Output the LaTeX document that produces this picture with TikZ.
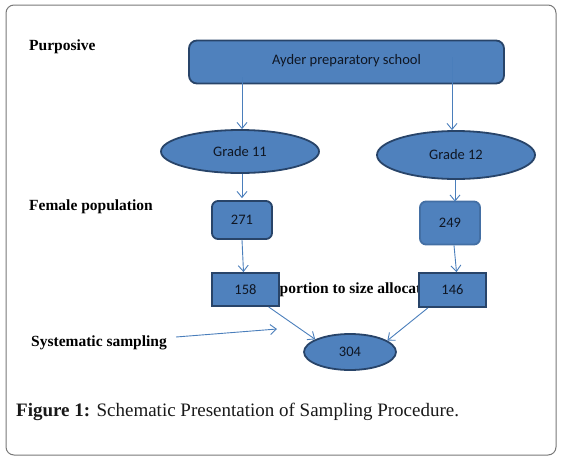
\documentclass[tikz,border=0pt]{standalone}
\usepackage{fontspec}
\setmainfont{Liberation Serif}
\newfontfamily\boxfont{Carlito}
\usetikzlibrary{shapes.geometric,arrows.meta,calc}
\definecolor{boxblue}{RGB}{79,129,189}
\definecolor{boxedge}{RGB}{40,68,105}
\definecolor{arrowblue}{RGB}{74,126,187}
\definecolor{boxtext}{RGB}{15,22,35}
\definecolor{framegray}{RGB}{120,120,120}
\tikzset{
	blockbox/.style = {draw = boxedge, line width = 1.8pt, fill = boxblue, inner sep = 0pt, text = boxtext, font = \boxfont\fontsize{14.5}{16}\selectfont},
	roundbox/.style = {blockbox, rounded corners = 6pt},
	ovalnode/.style = {blockbox, ellipse},
	sidetext/.style = {anchor = west, inner sep = 0pt, font = \bfseries\fontsize{15.5}{18}\selectfont},
	flowarrow/.style = {draw = arrowblue, line width = 0.9pt, -{Straight Barb[length = 6pt, width = 10pt]}}
}
\begin{document}
\begin{tikzpicture} [x = 1pt, y = -1pt]
	\useasboundingbox (0,0) rectangle (562,461);
	\draw [framegray, line width = 1pt, rounded corners = 8pt] (6,5) rectangle (556,455);
	% left side labels
	\node [sidetext] (purp) at (29,47) {Purposive};
	\node [sidetext] (fem) at (29,207) {Female population};
	\node [sidetext] (sys) at (31,343) {Systematic sampling};
	\node [sidetext] (alloc) at (279.5,289.5) {portion to size allocat};
	% boxes
	\node [roundbox, rounded corners = 8pt, minimum width = 315pt, minimum height = 43pt, text depth = 5pt] (school) at (346.5,62) {Ayder preparatory school};
	\node [ovalnode, minimum width = 158pt, minimum height = 43pt] (g11) at (240,151.5) {Grade 11};
	\node [ovalnode, minimum width = 158pt, minimum height = 48pt] (g12) at (456,155) {Grade 12};
	\node [roundbox, minimum width = 60pt, minimum height = 38pt] (f11) at (242,220) {271};
	\node [roundbox, draw = boxblue!70!boxedge, minimum width = 60pt, minimum height = 43pt] (f12) at (450,223) {249};
	\node [blockbox, minimum width = 67pt, minimum height = 33pt] (s11) at (245.5,289.5) {158};
	\node [blockbox, minimum width = 67pt, minimum height = 34pt] (s12) at (452.5,290) {146};
	\node [ovalnode, minimum width = 92pt, minimum height = 36pt] (total) at (350,352) {304};
	\coordinate (sysend) at (277,329);
	% arrows
	\draw [flowarrow] ($(school.south -| 242,0)+(0,-7)$) -- (g11.north -| 242,0);
	\draw [flowarrow] ($(school.south -| 452,0)+(0,-27)$) -- (g12.north -| 452,0);
	\draw [flowarrow] (g11.south -| 242,0) -- ([yshift = 2pt]f11.north);
	\draw [flowarrow] (g12.south -| 455,0) -- ([xshift = 5pt, yshift = -1pt]f12.north);
	\draw [flowarrow] (f11.south) -- ([xshift = -2pt]s11.north);
	\draw [flowarrow] ([xshift = 4pt]f12.south) -- ([xshift = 4pt]s12.north);
	\draw [flowarrow] (s11.-37) -- (total.160);
	\draw [flowarrow] (s12.-144) -- (total.17);
	\draw [flowarrow] ([xshift = 9pt, yshift = 6pt]sys.east) -- (sysend);
	% caption
	\node [anchor = west, inner sep = 0pt, font = \fontsize{19}{22}\selectfont, text = black!90] (caption) at (16,412) {\textbf{Figure 1:} Schematic Presentation of Sampling Procedure.};
\end{tikzpicture}
\end{document}
